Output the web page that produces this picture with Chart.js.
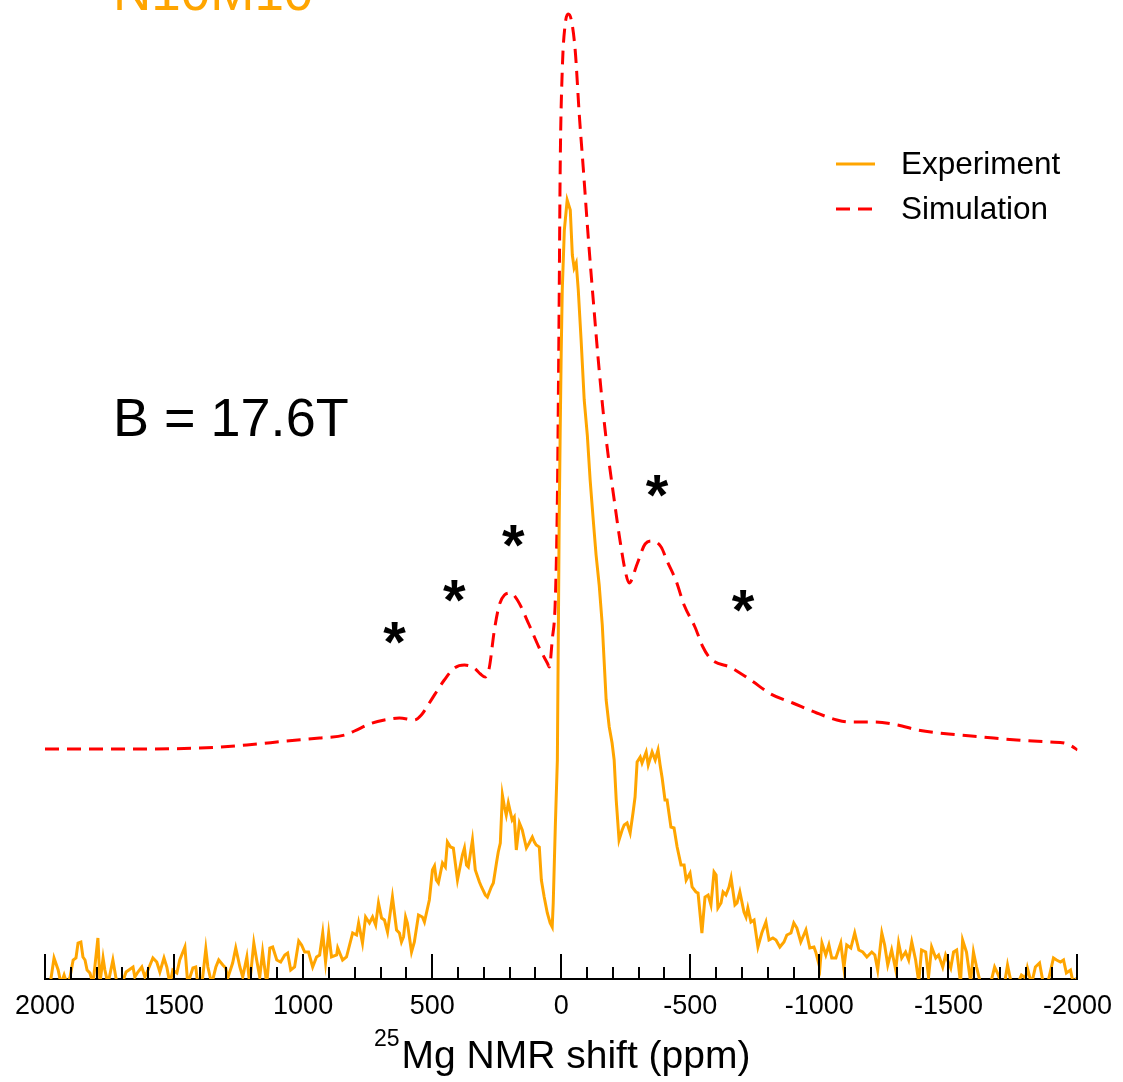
<!DOCTYPE html>
<html><head><meta charset="utf-8">
<script src="https://cdn.jsdelivr.net/npm/chart.js@4.4.0/dist/chart.umd.min.js"></script>
<style>html,body{margin:0;padding:0;background:#fff;}#wrap{position:relative;width:1123px;height:1082px;}</style>
</head><body><div id="wrap"><canvas id="c" width="1123" height="1082"></canvas></div>
<script>
// 25Mg NMR shift (ppm) and intensity (a.u.)
const expShift = [2000,1980,1965,1949,1938,1926,1915,1903,1891,1880,1872,1861,1853,1845,1837,1826,1814,1795,1787,1775,1768,1756,1737,1721,1702,1686,1675,1659,1652,1640,1625,1613,1601,1582,1567,1555,1539,1528,1516,1505,1489,1478,1458,1447,1427,1416,1408,1392,1377,1369,1354,1338,1327,1311,1300,1292,1273,1261,1245,1234,1218,1207,1191,1180,1168,1157,1141,1129,1118,1102,1087,1071,1060,1048,1033,1017,1006,994,979,963,948,936,924,913,901,890,870,866,847,832,820,808,793,785,770,758,743,731,719,708,696,685,673,
654,638,627,619,611,603,596,580,569,553,538,530,511,499,491,484,476,460,449,441,429,418,402,383,375,367,360,344,333,317,309,294,286,271,263,251,244,236,228,220,213,205,190,182,174,162,151,135,124,112,104,97,85,77,66,54,43,35,31,23,15,
8,4,0,-4,-12,-23,-35,-43,-50,-58,-66,-77,-89,-101,-112,-124,-135,-147,-159,-166,-174,-186,-197,-205,-213,-224,-236,-244,-255,-267,-278,-286,-294,-306,-313,-329,-337,-352,-364,-375,-383,-391,-402,-410,-425,-437,-449,-464,-476,-484,-499,-507,-522,-530,-545,-557,-569,-580,-592,-600,-607,-619,-627,-638,-650,-658,-673,-681,-692,-708,-716,-723,-735,-747,-762,-777,-793,-805,-820,-832,-847,-863,-874,-890,-901,-913,-928,-948,-963,-979,-986,-1002,-1010,-1025,-1037,-1048,-1064,-1083,-1095,-1106,-1122,-1137,-1153,-1168,-1184,-1203,-1215,-1226,-1242,-1253,-1265,-1280,-1296,-1307,-1319,-1334,-1346,-1358,-1373,-1385,-1396,-1412,-1423,-1435,-1451,-1462,-1478,-1489,-1509,-1520,-1532,-1547,-1555,-1570,-1586,-1597,-1609,-1625,-1644,-1663,-1679,-1690,-1706,-1717,-1729,-1744,-1768,-1783,-1799,-1806,-1822,-1837,-1853,-1868,-1884,-1899,-1907,-1919,-1934,-1946,-1957,-1973,-1984,-1996];
const expIntensity = [-0.5,-0.5,2.1,0.9,-0.5,0.4,-0.5,0.2,1.9,2.1,3.6,3.7,2.2,1.9,0.9,0.6,-0.5,4.1,-0.4,2.1,0.9,-0.5,1.9,-0.5,-0.5,0.7,0.9,1.2,0.2,0.7,1.2,0.2,0.9,2.1,1.7,0.7,2.1,1.2,-0.5,0.9,0.6,1.9,3.2,-0.5,1.1,1.2,-0.5,-0.5,3.0,1.2,-0.5,1.2,1.9,1.4,1.1,0.1,1.6,3.1,1.2,0.2,2.2,-0.5,3.6,1.9,0.2,2.7,-0.5,3.1,3.2,1.9,1.7,2.4,2.6,0.9,1.2,3.8,3.4,2.7,2.7,1.2,2.2,2.4,4.6,1.7,4.6,2.2,2.4,3.1,1.9,2.2,3.4,4.6,4.4,5.6,3.6,6.2,5.6,6.2,5.4,7.6,6.1,5.9,4.7,
8.2,4.9,4.6,3.7,4.2,6.2,5.6,2.7,3.7,6.4,6.2,5.7,7.9,10.9,11.3,9.9,9.6,11.6,11.2,13.7,13.2,13.1,9.9,12.4,13.1,11.4,11.2,13.9,10.9,9.7,9.2,8.4,8.2,9.2,9.6,11.6,12.7,13.6,18.4,17.2,16.4,17.6,15.9,16.2,12.9,15.6,14.9,13.1,13.6,14.2,13.7,13.4,13.2,9.9,8.2,6.6,5.6,5.2,7.6,15.2,21.9,
45.6,54.9,62.9,68.9,74.9,77.9,76.9,72.4,71.1,71.6,68.9,63.9,57.9,54.4,49.9,45.9,42.4,39.4,35.4,31.9,27.9,25.2,23.6,21.9,17.9,13.9,14.9,15.4,15.6,14.6,16.6,18.2,21.7,22.2,21.6,22.7,21.4,22.7,21.9,22.9,21.4,20.1,17.9,17.9,15.2,15.1,13.2,11.4,11.4,9.9,10.6,9.2,8.7,8.6,4.6,8.2,8.4,7.4,10.7,10.4,7.1,7.6,8.7,8.4,9.2,10.1,7.4,7.6,8.7,6.7,6.2,7.1,5.7,5.9,3.2,4.6,5.7,3.9,4.1,3.9,3.2,3.7,4.4,4.6,5.6,5.1,3.7,4.9,3.1,3.2,2.7,1.1,3.6,2.4,3.4,2.1,2.1,3.6,1.1,3.4,3.1,4.6,2.9,2.7,2.2,2.7,2.4,0.9,4.6,3.4,1.4,2.9,0.9,3.6,2.1,2.7,1.9,3.7,1.9,-0.3,2.9,2.7,0.2,3.2,2.1,2.4,1.2,2.4,1.1,2.7,2.9,-0.4,3.9,2.7,-0.3,2.7,1.2,-0.5,-0.5,-0.5,1.2,0.6,-0.5,-0.5,1.4,-0.5,-0.5,0.4,0.1,1.1,-0.5,1.2,1.6,-0.5,-0.5,1.2,2.1,1.9,1.7,1.9,0.6,0.9,-0.5,0.1];
const simShift = [2000,1864,1659,1400,1218,1064,936,839,801,743,685,627,569,542,511,453,414,375,337,313,294,279,259,240,220,197,170,124,85,54,46,35,23,15,12,8,4,-4,-15,-27,-39,-54,-70,-85,-104,-124,-147,-170,-209,-228,-248,-263,-294,-325,-352,-387,-410,-445,-476,-518,-549,-576,-661,-739,-812,-897,-990,-1068,-1114,-1211,-1304,-1381,-1501,-1632,-1764,-1895,-1949,-1977,-2000];
const simIntensity = [23.0,23.0,23.0,23.1,23.4,23.8,24.1,24.4,24.8,25.5,25.9,26.1,25.9,26.4,27.6,29.9,31.1,31.4,31.1,30.5,30.2,31.1,34.9,37.4,38.4,38.6,37.9,35.4,33.1,31.6,31.2,33.9,37.9,47.9,55.9,67.9,81.2,90.9,95.4,96.5,95.9,92.9,86.4,81.2,74.4,67.9,60.9,54.9,47.2,43.8,40.8,39.6,41.5,43.5,43.8,43.2,41.8,39.8,37.4,35.2,33.2,32.1,31.1,29.8,28.5,27.6,26.6,25.9,25.7,25.7,25.4,24.9,24.5,24.2,23.9,23.7,23.6,23.3,22.9];
const xMin = -2000, xMax = 2000, majorStep = 500, minorStep = 100;
const seriesLabels = ['Experiment', 'Simulation'];
const sampleName = 'N10M10';
const fieldLabel = 'B = 17.6T';
// satellite (spinning sideband) markers: [shift ppm, intensity]
const markerShift = [646, 414, 186, -371, -704];
const markerIntensity = [34.7, 38.9, 44.4, 49.4, 37.9];

const FONT = "'Liberation Sans', Arial, Helvetica, sans-serif";
const ORANGE = '#FFA500', RED = '#FF0000';

const toXY = (xs, ys) => xs.map((x, i) => ({x, y: ys[i]}));

const decor = {
  id: 'decor',
  afterDatasetsDraw(chart) {
    const ctx = chart.ctx, xs = chart.scales.x, ys = chart.scales.y, ca = chart.chartArea;
    ctx.save();
    // ticks pointing up into the plot
    ctx.strokeStyle = '#000'; ctx.lineWidth = 2;
    for (let v = xMin; v <= xMax; v += minorStep) {
      const px = Math.round(xs.getPixelForValue(v));
      const len = (v % majorStep === 0) ? 25 : 12;
      ctx.beginPath(); ctx.moveTo(px, ca.bottom); ctx.lineTo(px, ca.bottom - len); ctx.stroke();
    }
    // markers
    ctx.fillStyle = '#000'; ctx.font = 'bold 58px ' + FONT; ctx.textAlign = 'center'; ctx.textBaseline = 'alphabetic';
    markerShift.forEach((s, i) => {
      ctx.fillText('*', xs.getPixelForValue(s), ys.getPixelForValue(markerIntensity[i]) + 0.52 * 58);
    });
    // sample name and field
    ctx.textAlign = 'left';
    ctx.fillStyle = ORANGE; ctx.font = '53px ' + FONT;
    ctx.fillText(sampleName, ca.left + 68, ca.top + 10);
    ctx.fillStyle = '#000'; ctx.font = '54px ' + FONT;
    ctx.fillText(fieldLabel, ca.left + 68, ca.top + 436);
    // legend
    const ds = chart.data.datasets;
    const lx = 836, ly = [164, 209];
    ds.forEach((d, i) => {
      ctx.strokeStyle = d.borderColor; ctx.lineWidth = 3;
      ctx.setLineDash(d.borderDash || []);
      ctx.beginPath(); ctx.moveTo(lx, ly[i]); ctx.lineTo(lx + 39, ly[i]); ctx.stroke();
      ctx.setLineDash([]);
      ctx.fillStyle = '#000'; ctx.font = '31.5px ' + FONT; ctx.textBaseline = 'middle';
      ctx.fillText(d.label, 901, ly[i] + 1);
    });
    // axis title with superscript
    ctx.textBaseline = 'alphabetic';
    ctx.font = '23px ' + FONT; const w1 = ctx.measureText('25').width;
    ctx.font = '39px ' + FONT; const w2 = ctx.measureText('Mg NMR shift (ppm)').width;
    const cx = (ca.left + ca.right) / 2 + 1;
    const x0 = cx - (w1 + w2 + 2) / 2;
    ctx.font = '23px ' + FONT; ctx.fillText('25', x0, 1046);
    ctx.font = '39px ' + FONT; ctx.fillText('Mg NMR shift (ppm)', x0 + w1 + 2, 1068);
    ctx.restore();
  }
};

new Chart(document.getElementById('c'), {
  type: 'line',
  data: {
    datasets: [
      { label: seriesLabels[0], data: toXY(expShift, expIntensity), borderColor: ORANGE, borderWidth: 3, pointRadius: 0, tension: 0, fill: false },
      { label: seriesLabels[1], data: toXY(simShift, simIntensity), borderColor: RED, borderWidth: 3, borderDash: [14, 8], pointRadius: 0, cubicInterpolationMode: 'monotone', fill: false }
    ]
  },
  options: {
    responsive: false, animation: false, devicePixelRatio: 1,
    layout: { padding: { left: 45, right: 44, top: 0, bottom: 0 } },
    plugins: { legend: { display: false }, tooltip: { enabled: false } },
    scales: {
      x: {
        type: 'linear', reverse: true, min: xMin, max: xMax,
        grid: { display: false, drawTicks: false },
        border: { display: true, color: '#000', width: 2 },
        ticks: { stepSize: majorStep, autoSkip: false, maxRotation: 0, padding: 11, color: '#000', font: { family: FONT, size: 27 }, callback: v => String(v) },
        afterFit: s => { s.height = 103; }
      },
      y: { display: false, min: 0, max: 97.9 }
    }
  },
  plugins: [decor]
});
</script></body></html>
